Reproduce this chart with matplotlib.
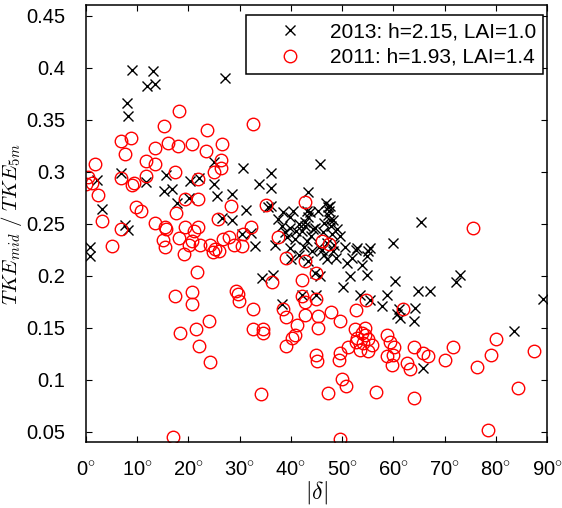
import numpy as np
import matplotlib as mpl
mpl.use('Agg')
import matplotlib.pyplot as plt
from matplotlib.ticker import FixedLocator, FixedFormatter

mpl.rcParams['font.family'] = ['Liberation Sans', 'DejaVu Sans']
mpl.rcParams['mathtext.fontset'] = 'custom'
mpl.rcParams['mathtext.rm'] = 'Liberation Sans'
mpl.rcParams['mathtext.it'] = 'Liberation Sans:italic'

# 2013 campaign (crosses): |delta| in degrees, TKE ratio
x2013 = [9.0, 13.1, 12.0, 13.5, 8.1, 8.2, 27.1,
         6.8, 2.1, 11.7, 3.1, 7.6, 8.2, 0.8, 0.8,
         15.7, 15.2, 16.7, 17.8, 20.4, 20.1, 22.1,
         24.9, 24.9, 25.5, 26.5, 28.6, 28.6, 30.7,
         31.3, 32.3, 30.4, 33.8, 36.1, 36.2, 35.5,
         43.4, 45.6, 47.6, 65.5, 59.9, 53.0, 55.4,
         38.5, 39.8, 41.5, 43.4, 47.3, 47.6, 46.5, 47.8, 38.2, 39.8, 42.1, 44.7,
         36.9, 39.2, 40.8, 39.8, 33.0, 43.1, 44.1, 46.0, 48.3, 49.6, 47.0, 48.9,
         50.9, 52.8, 55.1, 54.8, 51.5, 54.8, 50.2, 53.5, 58.7, 57.7, 60.3, 60.7,
         34.3, 36.5, 44.7, 45.7, 45.0, 42.1, 38.2, 36.2, 43.1, 43.4, 47.0,
         64.8, 67.1, 73.0, 72.3, 64.2, 61.1, 61.4, 64.0, 89.3, 83.6, 65.7, 55.4,
         37.5, 40.5, 41.0, 42.8, 44.0, 45.2, 46.3, 46.8, 47.2, 48.0, 48.5, 46.5,
         49.0, 45.5, 42.5, 41.5, 40.0, 38.8, 50.5, 52.0, 53.8, 43.7, 42.7, 44.4,
         48.2, 47.5]
y2013 = [0.398, 0.397, 0.382, 0.384, 0.366, 0.354, 0.390,
         0.299, 0.292, 0.290, 0.264, 0.249, 0.244, 0.228, 0.219,
         0.297, 0.282, 0.283, 0.270, 0.291, 0.275, 0.294,
         0.309, 0.288, 0.277, 0.256, 0.279, 0.254, 0.304,
         0.263, 0.241, 0.240, 0.288, 0.299, 0.284, 0.266,
         0.281, 0.307, 0.267, 0.252, 0.232, 0.227, 0.227,
         0.261, 0.257, 0.250, 0.257, 0.266, 0.254, 0.251, 0.248, 0.248, 0.246, 0.243, 0.246,
         0.230, 0.237, 0.235, 0.227, 0.229, 0.233, 0.224, 0.225, 0.224, 0.238, 0.232, 0.217,
         0.212, 0.225, 0.224, 0.219, 0.200, 0.201, 0.189, 0.182, 0.182, 0.171, 0.195, 0.163,
         0.198, 0.201, 0.203, 0.200, 0.182, 0.182, 0.173, 0.267, 0.262, 0.214, 0.216,
         0.185, 0.185, 0.201, 0.194, 0.169, 0.168, 0.159, 0.157, 0.178, 0.147, 0.111, 0.177,
         0.255, 0.262, 0.243, 0.252, 0.238, 0.262, 0.242, 0.270, 0.258, 0.240, 0.230, 0.220,
         0.245, 0.228, 0.228, 0.220, 0.216, 0.242, 0.228, 0.217, 0.210, 0.261, 0.248, 0.245,
         0.254, 0.262]

# 2011 campaign (circles)
x2011 = [18.2, 15.2, 32.7, 23.7, 6.8, 8.8, 16.1, 18.0, 20.6, 26.5, 13.5, 23.4,
         7.6, 1.8, 11.8, 13.5, 26.3, 26.3, 25.0, 17.4, 11.8, 6.8, 0.4, 0.1,
         1.1, 2.4, 8.9, 9.4, 21.9, 21.9, 19.3, 28.3, 35.1, 42.8, 9.8, 10.7,
         17.6, 3.1, 25.7, 6.8, 13.5, 15.4, 15.7, 19.3, 21.9, 21.1, 32.3, 30.7,
         28.0, 26.7, 18.2, 15.1, 20.6, 37.4, 5.0, 22.3, 24.2, 25.2, 30.4,
         15.4, 19.2, 20.1, 24.8, 26.0, 28.8, 39.0, 42.8, 21.6, 36.4, 17.4, 20.6,
         20.6, 29.3, 29.6, 29.9, 32.7, 42.2, 42.2, 42.8, 38.5, 39.0, 42.8, 41.1,
         40.8, 40.3, 39.0, 24.1, 18.4, 21.4, 22.1, 32.7, 34.5, 34.6, 24.2, 34.1,
         16.9, 45.0, 45.1, 45.3, 45.3, 45.0,
         75.6, 46.0, 47.5, 45.0, 47.9, 49.6, 52.7, 54.6, 61.8, 52.5, 54.5, 54.5,
         52.8, 55.1, 53.5, 55.1, 55.8, 51.2, 58.7, 59.3, 60.2, 58.8, 60.0, 59.7,
         62.6, 63.3, 64.0, 65.8, 66.8, 70.1, 71.7, 76.4, 79.0, 80.0, 87.5, 84.4,
         78.4, 49.6, 49.3, 49.5, 49.9, 50.8, 47.3, 56.7, 64.0, 53.0, 54.0, 53.8]
y2011 = [0.358, 0.344, 0.346, 0.340, 0.330, 0.332, 0.328, 0.325, 0.327, 0.327, 0.323, 0.320,
         0.317, 0.307, 0.310, 0.307, 0.311, 0.304, 0.300, 0.300, 0.296, 0.294, 0.295, 0.288,
         0.289, 0.278, 0.287, 0.289, 0.293, 0.274, 0.274, 0.267, 0.268, 0.271, 0.266, 0.262,
         0.260, 0.253, 0.255, 0.245, 0.251, 0.247, 0.245, 0.247, 0.247, 0.243, 0.247, 0.240,
         0.237, 0.235, 0.236, 0.234, 0.233, 0.237, 0.229, 0.230, 0.230, 0.226, 0.229,
         0.228, 0.221, 0.230, 0.223, 0.224, 0.230, 0.217, 0.214, 0.204, 0.194, 0.181, 0.184,
         0.173, 0.185, 0.183, 0.176, 0.168, 0.196, 0.181, 0.175, 0.168, 0.160, 0.162, 0.153,
         0.143, 0.140, 0.133, 0.157, 0.145, 0.149, 0.133, 0.149, 0.149, 0.145, 0.117, 0.086,
         0.045, 0.124, 0.118, 0.161, 0.150, 0.203,
         0.246, 0.233, 0.231, 0.178, 0.165, 0.157, 0.167, 0.177, 0.168, 0.149, 0.150, 0.143,
         0.136, 0.139, 0.129, 0.128, 0.134, 0.132, 0.143, 0.136, 0.132, 0.123, 0.124, 0.114,
         0.116, 0.110, 0.132, 0.126, 0.123, 0.119, 0.132, 0.112, 0.124, 0.139, 0.128, 0.092,
         0.052, 0.043, 0.119, 0.126, 0.101, 0.094, 0.087, 0.088, 0.083, 0.140, 0.135, 0.145]

labels = ['2013: h=2.15, LAI=1.0', '2011: h=1.93, LAI=1.4']
xticks = [0, 10, 20, 30, 40, 50, 60, 70, 80, 90]
yticks = [0.05, 0.1, 0.15, 0.2, 0.25, 0.3, 0.35, 0.4, 0.45]
ytick_labels = ['0.05', '0.1', '0.15', '0.2', '0.25', '0.3', '0.35', '0.4', '0.45']

fig = plt.figure(figsize=(5.62, 5.08), dpi=100)
ax = fig.add_axes([0.153, 0.1293, 0.8203, 0.8603])

ax.plot(x2013, y2013, 'x', color='k', ms=6.5, mew=1.0, label=labels[0])
ax.plot(x2011, y2011, 'o', mfc='none', mec='r', ms=9, mew=1.0, label=labels[1])

ax.set_xlim(0, 90)
ax.set_ylim(0.04, 0.46)
ax.xaxis.set_major_locator(FixedLocator(xticks))
ax.xaxis.set_major_formatter(FixedFormatter([r'$\mathregular{%d}^{\circ}$' % t for t in xticks]))
ax.yaxis.set_major_locator(FixedLocator(yticks))
ax.yaxis.set_major_formatter(FixedFormatter(ytick_labels))
ax.tick_params(direction='in', length=4.5, width=0.8, top=True, right=True, labelsize=14.5)
ax.tick_params(axis='x', pad=13)
ax.tick_params(axis='y', pad=15)
for s in ax.spines.values():
    s.set_linewidth(1.1)

ax.set_xlabel(r'$|\delta|$', math_fontfamily='cm', fontsize=17, labelpad=0)
ax.set_ylabel(r'$TKE_{mid}\ /\ TKE_{5m}$', math_fontfamily='cm', fontsize=15)
ax.yaxis.set_label_coords(-0.135, 0.5)

leg = ax.legend(loc='upper right', bbox_to_anchor=(0.992, 0.977), borderaxespad=0,
                fontsize=15, numpoints=1, handlelength=3.5, handletextpad=0.15,
                borderpad=0.35, labelspacing=0.3, fancybox=False, framealpha=1)
leg.get_frame().set_edgecolor('k')
leg.get_frame().set_linewidth(1.1)

plt.savefig('out.png', dpi=100)
plt.close()
